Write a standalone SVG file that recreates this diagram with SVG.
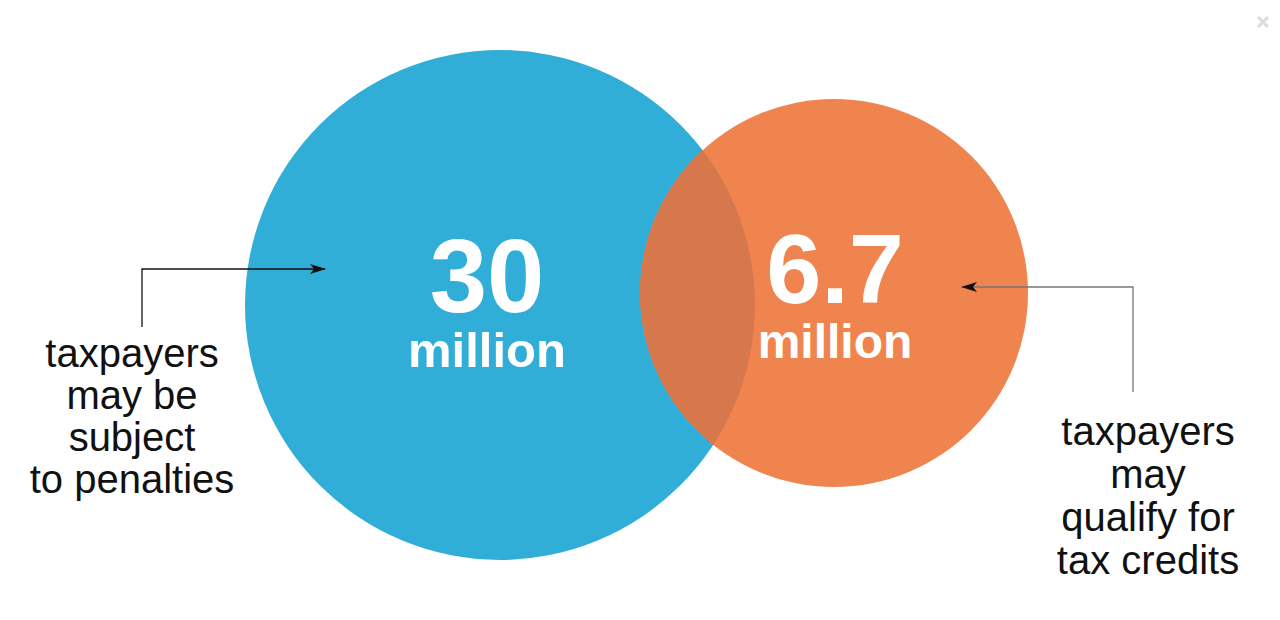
<svg xmlns="http://www.w3.org/2000/svg" width="1280" height="620" viewBox="0 0 1280 620">
<style>
.lbl{font-family:"Liberation Sans",Arial,sans-serif;font-size:40px;fill:#111;text-anchor:middle}
.big{font-family:"Liberation Sans",Arial,sans-serif;font-weight:bold;fill:#fff;text-anchor:middle}
.conn{fill:none;stroke-width:1.3}
</style>
<defs>
<marker id="arr" viewBox="0 0 16 10" refX="15" refY="5" markerWidth="16" markerHeight="11" markerUnits="userSpaceOnUse" orient="auto">
<path d="M0,0 L16,5 L0,10 L4,5 z" fill="#111"/>
</marker>
<clipPath id="blueClip"><circle cx="500" cy="305" r="255"/></clipPath>
</defs>
<rect width="1280" height="620" fill="#fff"/>
<g id="close">
<path d="M1258,17 L1268,27 M1268,17 L1258,27" stroke="#ddd" stroke-width="3"/>
</g>
<g id="blue-circle">
<circle cx="500" cy="305" r="255" fill="#31AED8"/>
</g>
<g id="orange-circle">
<circle cx="834" cy="293" r="194" fill="#F0844F"/>
<circle cx="834" cy="293" r="194" fill="#D6784C" clip-path="url(#blueClip)"/>
</g>
<g id="blue-value">
<text class="big" x="487" y="312" font-size="103">30</text>
<text class="big" x="487" y="367" font-size="49">million</text>
</g>
<g id="orange-value">
<text class="big" x="835" y="303" font-size="99">6.7</text>
<text class="big" x="835" y="358" font-size="48">million</text>
</g>
<g id="connectors">
<path class="conn" stroke="#111" d="M142,327 L142,269 L325,269" marker-end="url(#arr)"/>
<path class="conn" stroke="#777" d="M1133,392 L1133,287 L962,287" marker-end="url(#arr)"/>
</g>
<g id="left-label">
<text class="lbl" x="132" y="367">taxpayers</text>
<text class="lbl" x="132" y="409">may be</text>
<text class="lbl" x="132" y="451">subject</text>
<text class="lbl" x="132" y="493">to penalties</text>
</g>
<g id="right-label">
<text class="lbl" x="1148" y="445">taxpayers</text>
<text class="lbl" x="1148" y="488">may</text>
<text class="lbl" x="1148" y="531">qualify for</text>
<text class="lbl" x="1148" y="574">tax credits</text>
</g>
</svg>
